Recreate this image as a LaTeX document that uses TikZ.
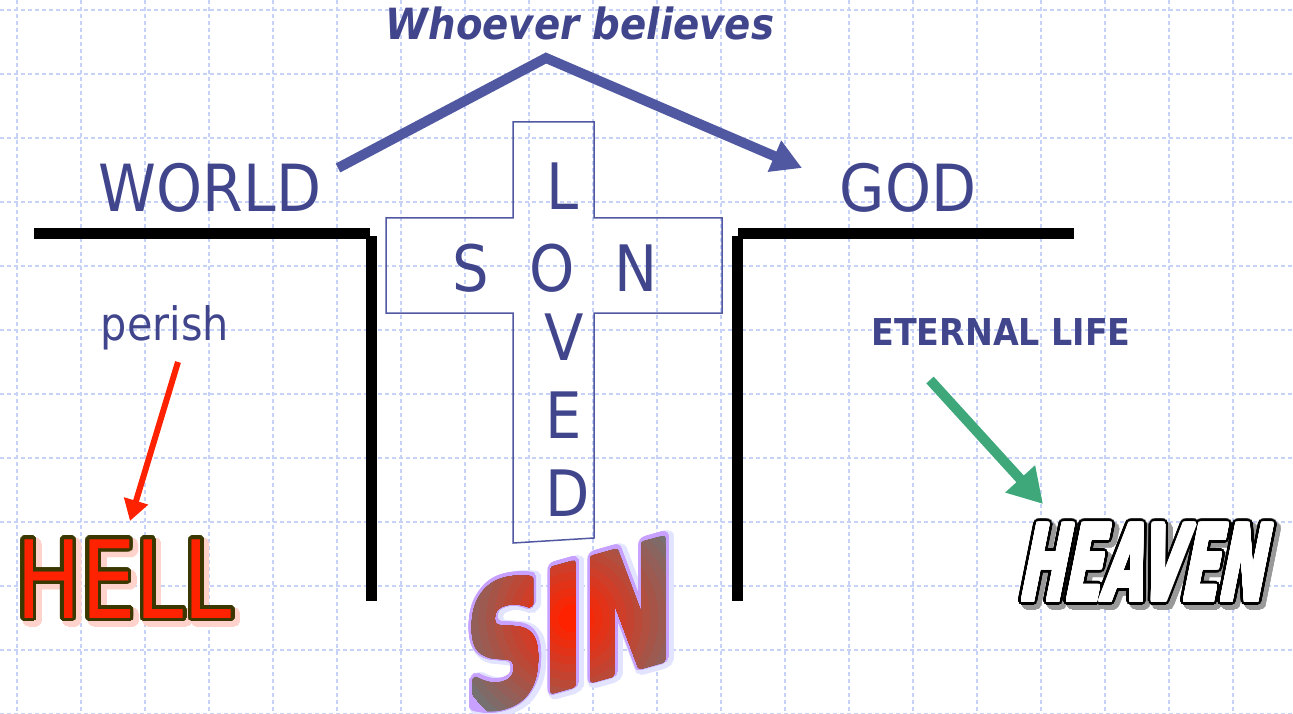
\documentclass[tikz,border=0pt]{standalone}
\usepackage{fontspec}
\usepackage{contour}
\usetikzlibrary{arrows.meta}
\newfontfamily\tahoma{DejaVu Sans}[FakeStretch=0.9]
\newfontfamily\hellfont{DejaVu Sans}[FakeStretch=0.8]
\newfontfamily\heavenfont{DejaVu Sans}[FakeStretch=0.51,FakeSlant=0.2]
\newfontfamily\sinfont{DejaVu Sans}[FakeStretch=0.64]
\contournumber{32}
\definecolor{ink}{HTML}{40458C}
\definecolor{arrowblue}{HTML}{4F58A0}
\definecolor{gridblue}{HTML}{C6D2F8}
\definecolor{hellred}{HTML}{FF2200}
\definecolor{helldark}{HTML}{3A3800}
\definecolor{lifegreen}{HTML}{3FA87A}
\definecolor{sinlilac}{HTML}{C8A0FF}
\definecolor{singlow}{HTML}{E2E4FF}
\definecolor{sinfog}{HTML}{767070}

\begin{document}
\begin{tikzpicture}[x=1pt,y=-1pt,
    gridline/.style={gridblue,line width=1.1pt,dash pattern=on 4pt off 3pt},
    word/.style={inner sep=0,text=ink,anchor=base},
    letter/.style={inner sep=0,text=ink,font=\tahoma\fontsize{64}{64}\selectfont},
    crossline/.style={draw=arrowblue,line width=1.5pt,line join=miter},
    wall/.style={line width=11pt},
    hellword/.style={inner sep=0,anchor=base,font=\hellfont\fontsize{108}{108}\selectfont},
    heavenword/.style={inner sep=0,anchor=base,font=\heavenfont\bfseries\fontsize{106}{106}\selectfont},
    sinword/.style={inner sep=0,yslant=0.28,font=\sinfont\bfseries\fontsize{167}{167}\selectfont}]
  \useasboundingbox (0,0) rectangle (1293,714);
  % background grid
  \foreach \gx in {0,...,20}
    \draw[gridline] (17+64*\gx,0) -- (17+64*\gx,714);
  \foreach \gy in {0,...,11}
    \draw[gridline] (0,10+64*\gy) -- (1293,10+64*\gy);

  % words
  \node[word,font=\tahoma\bfseries\itshape\fontsize{43}{43}\selectfont] (whoever) at (580,40) {Whoever believes};
  \node[word,font=\tahoma\fontsize{65}{65}\selectfont] (world) at (210,212) {WORLD};
  \node[word,font=\tahoma\fontsize{65}{65}\selectfont] (god) at (908,212) {GOD};
  \node[word,font=\tahoma\fontsize{46}{46}\selectfont] (perish) at (165,340) {perish};
  \node[word,font=\tahoma\bfseries\fontsize{37}{37}\selectfont] (life) at (1001,345) {ETERNAL LIFE};

  % walls
  \draw[wall] (34,233.5) -- (370,233.5);
  \draw[wall] (371,236) -- (371,601);
  \draw[wall] (738,233.5) -- (1074,233.5);
  \draw[wall] (737.5,236) -- (737.5,601);

  % cross
  \draw[crossline] (513,122) -- (594,122) -- (594,218) -- (722,218) -- (722,313) -- (594,313)
    -- (594,538) -- (513,543) -- (513,313) -- (386,313) -- (386,218) -- (513,218) -- cycle;
  \foreach \ch/\cx/\cy in {L/563/186,S/471/268,O/552/268,N/636/268,V/564/337,E/564/415,D/568/493}
    \node[letter] (cross\ch) at (\cx,\cy) {\ch};

  % arrows
  \coordinate (believestart) at (338,168);
  \coordinate (believetop) at (546,58);
  \coordinate (believeend) at (802,168);
  \draw[arrowblue,line width=10pt,-{Triangle[length=30pt,width=32pt]}] (believestart) -- (believetop) -- (believeend);
  \coordinate (perishtail) at (178,362);
  \coordinate (hellhead) at (130,521);
  \draw[hellred,line width=6pt,-{Triangle[length=21pt,width=24pt]}] (perishtail) -- (hellhead);
  \coordinate (lifetail) at (930,380);
  \coordinate (heavenhead) at (1043,504);
  \draw[lifegreen,line width=10pt,-{Triangle[length=34pt,width=38pt]}] (lifetail) -- (heavenhead);

  % HELL
  \node[hellword] (hellglow) at (128,622) {\contourlength{5pt}\contour{hellred!20}{\textcolor{hellred!20}{HELL}}};
  \node[hellword] (hell) at (124,618) {\contourlength{3.6pt}\contour{helldark}{\textcolor{hellred}{HELL}}};

  % HEAVEN
  \node[heavenword] (heavenshadow) at (1144,605) {\contourlength{5pt}\contour{black!40}{\textcolor{black!40}{HEAVEN}}};
  \node[heavenword] (heavenline) at (1140,601) {\contourlength{4.5pt}\contour{black}{\textcolor{black}{HEAVEN}}};
  \node[heavenword] (heaven) at (1140,601) {\contourlength{1.8pt}\contour{white}{\textcolor{white}{HEAVEN}}};

  % SIN
  \node[sinword] (singlow) at (573,630) {\contourlength{8pt}\contour{singlow}{\textcolor{singlow}{SIN}}};
  \node[sinword] (sinline) at (570,627) {\contourlength{5.5pt}\contour{sinlilac}{\textcolor{sinlilac}{SIN}}};
  \foreach \k in {0,...,14} {
    \pgfmathsetmacro\rr{126-8*\k}
    \pgfmathsetmacro\mix{100*\k/14}
    \begin{scope}
      \clip (572,618) ellipse [x radius=\rr, y radius=\rr];
      \node[sinword] (sinfill\k) at (570,627) {\contourlength{2.5pt}\contour{hellred!\mix!sinfog}{\textcolor{hellred!\mix!sinfog}{SIN}}};
    \end{scope}
  }
\end{tikzpicture}
\end{document}
